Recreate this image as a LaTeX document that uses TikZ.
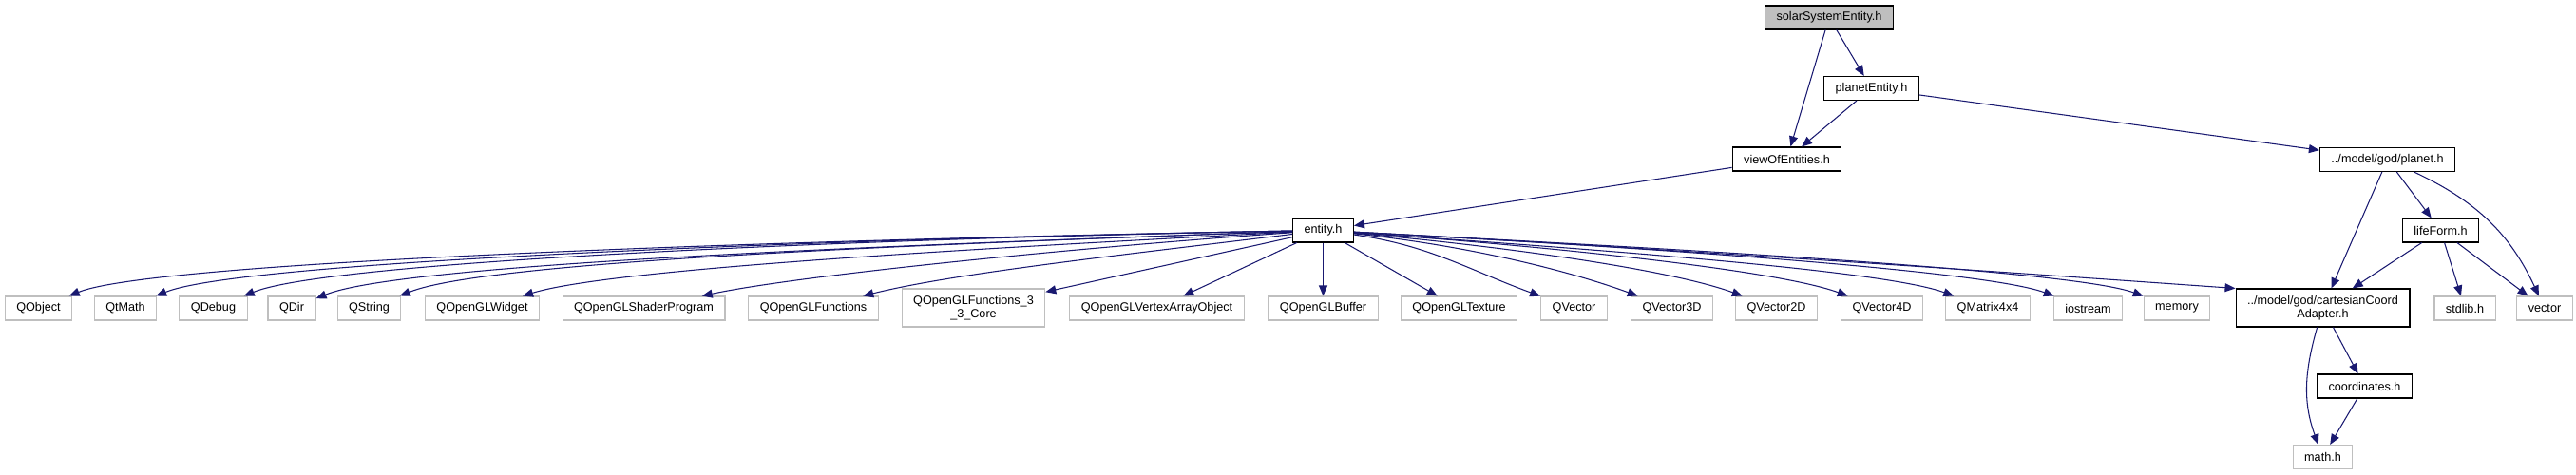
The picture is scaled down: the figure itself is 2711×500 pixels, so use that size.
\documentclass[tikz,border=0pt]{standalone}
\usepackage{fontspec}
\setmainfont{Liberation Sans}
\usetikzlibrary{arrows.meta,calc}
\definecolor{EdgeBlue}{HTML}{191970}
\definecolor{Grey}{HTML}{BFBFBF}

\begin{document}
\begin{tikzpicture}[x=0.02cm,y=-0.02cm,
  font=\fontsize{7.2}{8}\selectfont,
  hdr/.style={draw=black,line width=0.6pt,fill=white,inner xsep=0.24cm,inner ysep=0pt,minimum height=0.5cm,align=center},
  ext/.style={hdr,draw=Grey},
  root/.style={hdr,fill=Grey},
  edge/.style={EdgeBlue,line width=0.6pt,-{Triangle[length=0.22cm,width=0.18cm]}}]
  \useasboundingbox (0,0) rectangle (2711,500);

  % own headers
  \node[root] (solarsys) at (1925,18.5) {solarSystemEntity.h};
  \node[hdr] (planetent) at (1969.5,93) {planetEntity.h};
  \node[hdr] (viewent) at (1880.5,167.5) {viewOfEntities.h};
  \node[hdr] (planet) at (2512.5,168) {../model/god/planet.h};
  \node[hdr] (entity) at (1392.5,242.5) {entity.h};
  \node[hdr] (lifeform) at (2568.5,242.5) {lifeForm.h};
  \node[hdr,minimum height=0.8cm] (cartesian) at (2444.5,324) {../model/god/cartesianCoord\\Adapter.h};
  \node[hdr] (coords) at (2488.5,406.5) {coordinates.h};

  % system / Qt headers
  \node[ext] (qobject) at (40.5,324.5) {QObject};
  \node[ext] (qtmath) at (132,324.5) {QtMath};
  \node[ext] (qdebug) at (224.5,324.5) {QDebug};
  \node[ext] (qdir) at (307,324.5) {QDir};
  \node[ext] (qstring) at (388.5,324.5) {QString};
  \node[ext] (qglwidget) at (507.5,324.5) {QOpenGLWidget};
  \node[ext] (qglshader) at (677.5,324.5) {QOpenGLShaderProgram};
  \node[ext] (qglfunc) at (856,324.5) {QOpenGLFunctions};
  \node[ext,minimum height=0.8cm] (qglcore) at (1024.5,324) {QOpenGLFunctions\_3\\\_3\_Core};
  \node[ext] (qglvao) at (1217.5,324.5) {QOpenGLVertexArrayObject};
  \node[ext] (qglbuffer) at (1392.5,324.5) {QOpenGLBuffer};
  \node[ext] (qgltexture) at (1535.5,324.5) {QOpenGLTexture};
  \node[ext] (qvector) at (1656.5,324.5) {QVector};
  \node[ext] (qvector3d) at (1759.5,324.5) {QVector3D};
  \node[ext] (qvector2d) at (1869.5,324.5) {QVector2D};
  \node[ext] (qvector4d) at (1980.5,324.5) {QVector4D};
  \node[ext] (qmatrix) at (2092,324.5) {QMatrix4x4};
  \node[ext] (iostream) at (2197.5,324.5) {iostream};
  \node[ext] (memory) at (2291,324.5) {memory};
  \node[ext] (stdlib) at (2594,324.5) {stdlib.h};
  \node[ext] (vector) at (2678,324.5) {vector};
  \node[ext] (mathh) at (2444.5,481) {math.h};

  % includes
  \draw[edge] (solarsys) -- (viewent);
  \draw[edge] (solarsys) -- (planetent);
  \draw[edge] (planetent) -- (viewent);
  \draw[edge] (planetent) -- (planet);
  \draw[edge] (viewent) -- (entity);

  \foreach \t/\o/\i in {qobject/181/22, qtmath/181/22, qdebug/181/22, qdir/182/22, qstring/182/22,
      qglwidget/183/17, qglshader/184/12, qglfunc/187/14}
    \draw[edge] (entity) to[out=\o,in=\i,in distance=2cm] (\t);
  \foreach \t in {qglcore, qglvao, qglbuffer, qgltexture}
    \draw[edge] (entity) -- (\t);
  \foreach \t/\o in {qvector/-8, qvector3d/-6, qvector2d/-5, qvector4d/-4, qmatrix/-4, iostream/-3, memory/-3}
    \draw[edge] (entity) to[out=\o,in=160,in distance=1.6cm] (\t);
  \draw[edge] (entity) to[out=-3,in=176,in distance=1.6cm] (cartesian.north west);

  \draw[edge] (planet) -- (cartesian);
  \draw[edge] (planet) -- (lifeform);
  \draw[edge] (planet) to[out=-25,in=115] (vector);
  \draw[edge] (lifeform) -- (cartesian);
  \draw[edge] (lifeform) -- (stdlib);
  \draw[edge] (lifeform) -- (vector);
  \draw[edge] (cartesian) -- (coords);
  \draw[edge] (cartesian) to[out=-106,in=110] (mathh);
  \draw[edge] (coords) -- (mathh);
\end{tikzpicture}
\end{document}
